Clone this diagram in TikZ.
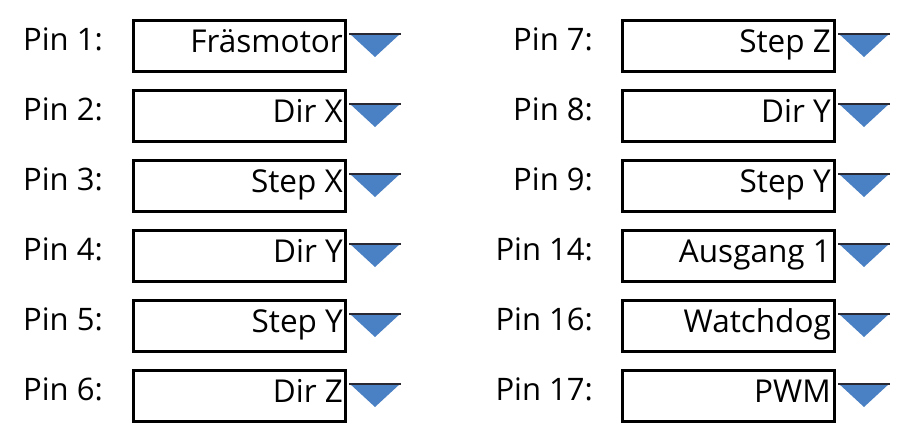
\documentclass[tikz,border=0pt]{standalone}
\usepackage{fontspec}
\setmainfont{Open Sans}
\definecolor{triblue}{RGB}{74,128,196}
\definecolor{tridark}{RGB}{40,40,50}
\begin{document}
\begin{tikzpicture}[x=1pt,y=-1pt,
  pinlabel/.style={inner sep=0pt,font=\fontsize{31}{36}\selectfont,anchor=base west},
  pinlabelr/.style={inner sep=0pt,font=\fontsize{31}{36}\selectfont,anchor=base east},
  combobox/.style={draw=black,line width=3pt,minimum width=212pt,minimum height=51pt,inner sep=0pt,anchor=north west},
  boxtext/.style={inner sep=0pt,font=\fontsize{31.5}{36}\selectfont,anchor=base east},
  arrowtri/.style={fill=triblue,draw=none}
]
\useasboundingbox (0,0) rectangle (913,440);
\fill[white] (0,0) rectangle (913,440);
% left column
\foreach \i/\lab/\val in {0/1/Fräsmotor,1/2/Dir X,2/3/Step X,3/4/Dir Y,4/5/Step Y,5/6/Dir Z}{
  \node[pinlabel] (lp\i) at (23,{50+70*\i}) {Pin \lab:};
  \node[combobox] (lb\i) at (131.5,{18.5+70*\i}) {};
  \begin{scope}
    \clip (133,{20+70*\i}) rectangle (342,{68+70*\i});
    \node[boxtext] (lt\i) at (343,{52+70*\i}) {\val};
  \end{scope}
  \fill[arrowtri] (349,{33+70*\i}) -- (401,{33+70*\i}) -- (375,{57+70*\i}) -- cycle;
  \draw[tridark,line width=2pt] (349,{34+70*\i}) -- (401,{34+70*\i});
}
% right column
\foreach \i/\lab/\val in {0/7/Step Z,1/8/Dir Y,2/9/Step Y,3/14/Ausgang 1,4/16/Watchdog,5/17/PWM}{
  \node[pinlabelr] (rp\i) at (593,{50+70*\i}) {Pin \lab:};
  \node[combobox] (rb\i) at (620.5,{18.5+70*\i}) {};
  \begin{scope}
    \clip (622,{20+70*\i}) rectangle (831,{68+70*\i});
    \node[boxtext] (rt\i) at (831,{52+70*\i}) {\val};
  \end{scope}
  \fill[arrowtri] (838,{33+70*\i}) -- (890,{33+70*\i}) -- (864,{57+70*\i}) -- cycle;
  \draw[tridark,line width=2pt] (838,{34+70*\i}) -- (890,{34+70*\i});
}
\end{tikzpicture}
\end{document}
